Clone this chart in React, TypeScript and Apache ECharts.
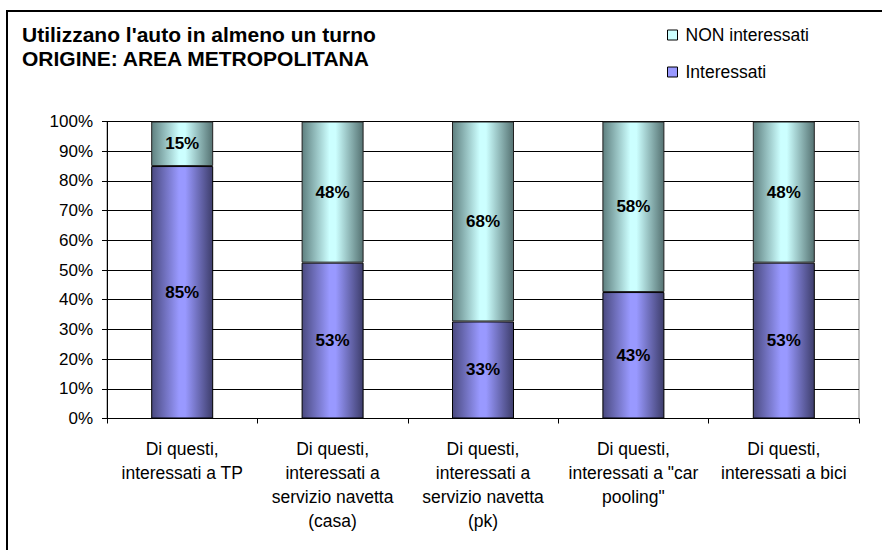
import React, { useEffect, useRef } from "react";
import * as echarts from "echarts";

const categories = [
  "Di questi,\ninteressati a TP",
  "Di questi,\ninteressati a\nservizio navetta\n(casa)",
  "Di questi,\ninteressati a\nservizio navetta\n(pk)",
  "Di questi,\ninteressati a \"car\npooling\"",
  "Di questi,\ninteressati a bici",
];
const interessati = [85, 53, 33, 43, 53];
const nonInteressati = [15, 48, 68, 58, 48];
const yTicks = [0, 10, 20, 30, 40, 50, 60, 70, 80, 90, 100];

const FONT = "'Liberation Sans', Arial, sans-serif";

export default function App() {
  const ref = useRef<HTMLDivElement>(null);
  useEffect(() => {
    if (!ref.current) return;
    const chart = echarts.init(ref.current, null, { renderer: "svg" });
    const totals = interessati.map((v, i) => v + nonInteressati[i]);
    const grad = (edgeL: string, mid: string, edgeR: string) =>
      new echarts.graphic.LinearGradient(0, 0, 1, 0, [
        { offset: 0, color: edgeL },
        { offset: 0.45, color: mid },
        { offset: 0.55, color: mid },
        { offset: 1, color: edgeR },
      ]);
    const labelStyle = {
      show: true,
      position: "inside" as const,
      fontFamily: FONT,
      fontSize: 17,
      fontWeight: "bold" as const,
      color: "#000",
    };
    chart.setOption({
      animation: false,
      backgroundColor: "#fff",
      title: {
        text: "Utilizzano l'auto in almeno un turno\nORIGINE: AREA METROPOLITANA",
        left: 22,
        top: 22,
        padding: 0,
        textStyle: {
          fontFamily: FONT,
          fontSize: 21,
          fontWeight: "bold",
          color: "#000",
          lineHeight: 24,
        },
      },
      legend: {
        orient: "vertical",
        left: 667,
        top: 26,
        padding: 0,
        itemWidth: 10,
        itemHeight: 10,
        itemGap: 19,
        icon: "rect",
        textStyle: { fontFamily: FONT, fontSize: 17.5, color: "#000", padding: [0, 0, 0, 3] },
        data: [
          { name: "NON interessati", itemStyle: { color: "#ccffff", borderColor: "#000", borderWidth: 1 } },
          { name: "Interessati", itemStyle: { color: "#9999ff", borderColor: "#000", borderWidth: 1 } },
        ],
      },
      graphic: [
        {
          type: "rect",
          shape: { x: 7, y: 11, width: 2000, height: 2000 },
          style: { fill: "none", stroke: "#000", lineWidth: 2 },
          silent: true,
        },
      ],
      grid: {
        left: 107,
        right: 23,
        top: 121.5,
        bottom: 131.5,
        show: true,
        borderColor: "#808080",
        borderWidth: 1,
        backgroundColor: "transparent",
      },
      xAxis: {
        type: "category",
        data: categories,
        boundaryGap: true,
        axisLine: { show: true, lineStyle: { color: "#000", width: 1 } },
        axisTick: { show: true, length: 5, alignWithLabel: false, lineStyle: { color: "#000" } },
        axisLabel: {
          interval: 0,
          margin: 18,
          fontFamily: FONT,
          fontSize: 17.5,
          lineHeight: 24,
          color: "#000",
          align: "center",
        },
        splitLine: { show: false },
      },
      yAxis: {
        type: "value",
        min: 0,
        max: 100,
        interval: 10,
        axisLine: { show: true, lineStyle: { color: "#000", width: 1 } },
        axisTick: { show: true, length: 5, lineStyle: { color: "#000" } },
        axisLabel: {
          margin: 14,
          fontFamily: FONT,
          fontSize: 17,
          color: "#000",
          formatter: (v: number) => (yTicks.includes(v) ? v + "%" : ""),
        },
        splitLine: { show: true, lineStyle: { color: "#000", width: 1 } },
      },
      series: [
        {
          name: "Interessati",
          type: "bar",
          stack: "tot",
          barWidth: 62,
          data: interessati.map((v, i) => (v / totals[i]) * 100),
          itemStyle: {
            color: grad("#4a4a80", "#9999ff", "#3d3d6b"),
            borderColor: "#000",
            borderWidth: 1,
          },
          label: { ...labelStyle, formatter: (p: any) => interessati[p.dataIndex] + "%" },
        },
        {
          name: "NON interessati",
          type: "bar",
          stack: "tot",
          barWidth: 62,
          data: nonInteressati.map((v, i) => (v / totals[i]) * 100),
          itemStyle: {
            color: grad("#5f8080", "#ccffff", "#557272"),
            borderColor: "#222",
            borderWidth: 1,
          },
          label: { ...labelStyle, formatter: (p: any) => nonInteressati[p.dataIndex] + "%" },
        },
      ],
    });
    return () => chart.dispose();
  }, []);
  return (
    <div
      ref={ref}
      style={{ position: "absolute", left: 0, top: 0, width: 882, height: 550 }}
    />
  );
}
